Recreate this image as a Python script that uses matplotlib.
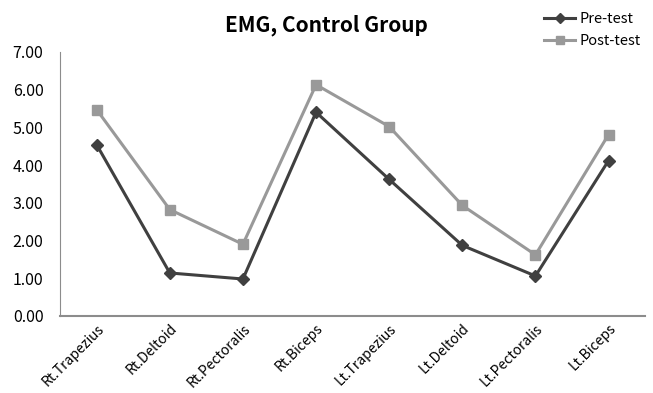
import matplotlib
matplotlib.use("Agg")
import matplotlib.pyplot as plt
import numpy as np

# --- data ---
muscles = ["Rt.Trapezius", "Rt.Deltoid", "Rt.Pectoralis", "Rt.Biceps",
           "Lt.Trapezius", "Lt.Deltoid", "Lt.Pectoralis", "Lt.Biceps"]
pre_test = [4.54, 1.14, 0.98, 5.40, 3.62, 1.87, 1.06, 4.12]
post_test = [5.47, 2.82, 1.90, 6.13, 5.02, 2.93, 1.62, 4.81]
y_ticks = [0, 1, 2, 3, 4, 5, 6, 7]

plt.rcParams["font.family"] = ["Noto Sans CJK KR", "DejaVu Sans"]

fig = plt.figure(figsize=(6.53, 3.93), dpi=100)
ax = fig.add_axes([0.092, 0.196, 0.896, 0.672])

x = np.arange(len(muscles))
ax.plot(x, pre_test, color="#404040", linewidth=2.2, marker="D", markersize=6,
        label="Pre-test", zorder=3)
ax.plot(x, post_test, color="#999999", linewidth=2.2, marker="s", markersize=7.5,
        label="Post-test", zorder=2)

ax.set_xlim(-0.5, len(muscles) - 0.5)
ax.set_ylim(0, 7)
ax.set_yticks(y_ticks)
ax.set_yticklabels([f"{v:.2f}" for v in y_ticks], fontsize=11.5)
ax.tick_params(axis="y", length=0, pad=12)
ax.set_xticks(x)
ax.set_xticklabels(muscles, rotation=45, ha="right", rotation_mode="anchor", fontsize=10)
ax.tick_params(axis="x", length=0, pad=4)

for s in ["top", "right"]:
    ax.spines[s].set_visible(False)
for s in ["left", "bottom"]:
    ax.spines[s].set_color("#8c8c8c")
ax.spines["bottom"].set_linewidth(1.5)

fig.text(0.5, 0.935, "EMG, Control Group", ha="center", va="center",
         fontsize=15, fontweight="bold")
fig.legend(loc="upper right", bbox_to_anchor=(0.99, 0.985), borderaxespad=0,
           frameon=False, fontsize=10.5, handlelength=2.1, handletextpad=0.3,
           labelspacing=0.55, markerscale=0.8)

fig.savefig("out.png", dpi=100)
